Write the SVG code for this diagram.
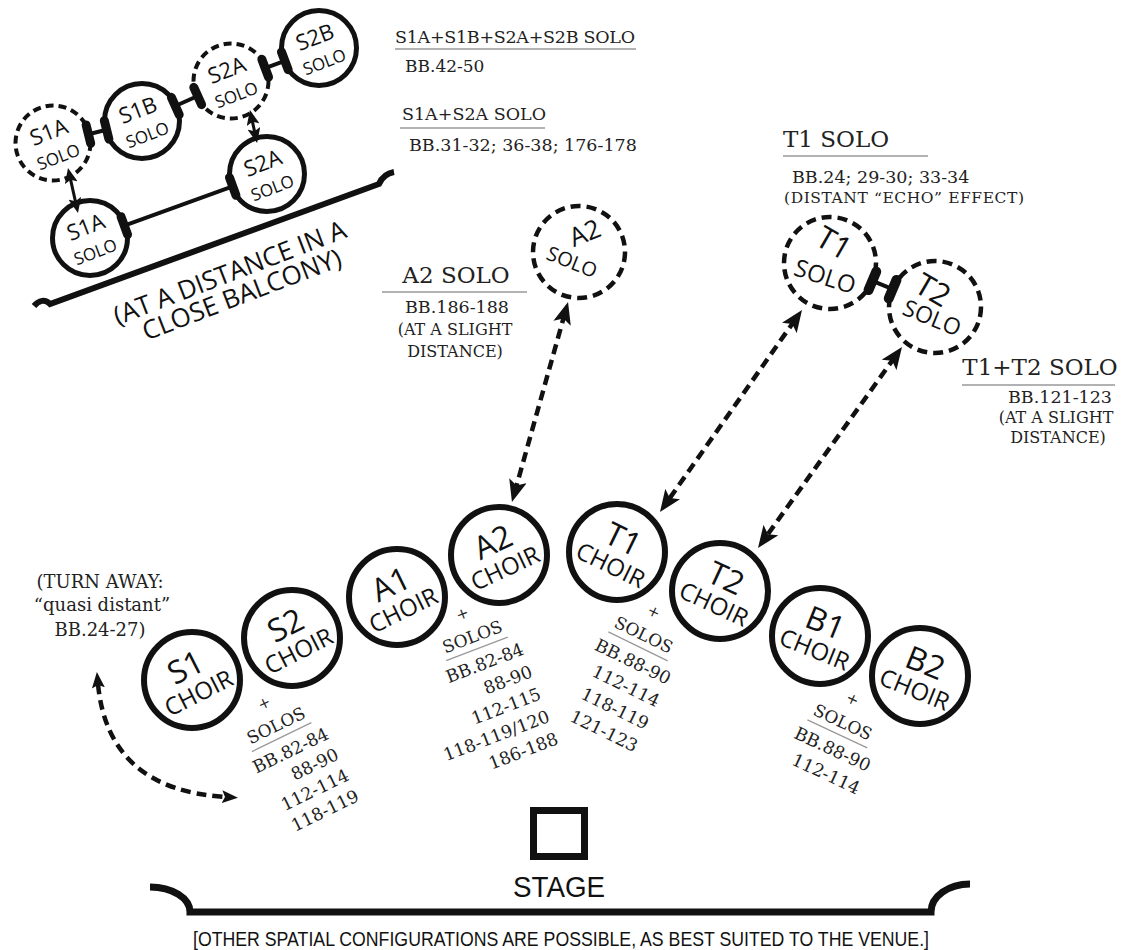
<svg xmlns="http://www.w3.org/2000/svg" xmlns:xlink="http://www.w3.org/1999/xlink" width="1123" height="950" viewBox="0 0 1123 950">
<style>
.ring{fill:#fff;stroke:#111;stroke-width:6}
.bring{fill:#fff;stroke:#111;stroke-width:5}
.dring{fill:#fff;stroke:#111;stroke-width:4.5;stroke-dasharray:10 6}
.bdring{fill:#fff;stroke:#111;stroke-width:4;stroke-dasharray:8 5}
.lab{font-family:"Open Sans","DejaVu Sans",sans-serif;fill:#111;text-anchor:middle}
.big{font-size:32px}
.mid{font-size:24px}
.serif{font-family:"DejaVu Serif","Liberation Serif",serif;fill:#222}
.ls{font-size:17.5px;text-anchor:end}
.plus{font-family:"DejaVu Serif",serif;font-size:15px;fill:#222;text-anchor:middle}
.solos{font-family:"DejaVu Serif",serif;font-size:17px;fill:#222;text-anchor:middle}
.rule{stroke:#999;stroke-width:1.3}
.darr{fill:none;stroke:#111;stroke-width:4.5;stroke-dasharray:10 6}
.conn{stroke:#111;stroke-width:4;fill:none}
.pill{fill:#111}
</style>
<defs>
<marker id="ah" viewBox="0 0 22 18" refX="10" refY="9" markerWidth="22" markerHeight="18" markerUnits="userSpaceOnUse" orient="auto-start-reverse"><path d="M0,0 L22,9 L0,18 L5,9 z" fill="#111"/></marker>
<marker id="ahs" viewBox="0 0 16 13" refX="4" refY="6.5" markerWidth="16" markerHeight="13" markerUnits="userSpaceOnUse" orient="auto-start-reverse"><path d="M0,0 L16,6.5 L0,13 L3,6.5 z" fill="#111"/></marker>
<marker id="aht" viewBox="0 0 15 13" refX="9" refY="6.5" markerWidth="15" markerHeight="13" markerUnits="userSpaceOnUse" orient="auto-start-reverse"><path d="M0,0 L15,6.5 L0,13 L3,6.5 z" fill="#111"/></marker>
<g id="solosHead"><text x="-44" y="-55" class="plus">+</text><text x="-43" y="-29" class="solos">SOLOS</text><line x1="-76" y1="-22" x2="-10" y2="-22" class="rule"/></g>
</defs>
<rect width="1123" height="950" fill="#fff"/>

<!-- balcony -->
<g id="balcony">
<path d="M34,306 C39,300 45,299 50,304 L379,184 C382,177 388,173 394,172" fill="none" stroke="#111" stroke-width="6"/>
<text class="lab" font-size="26" transform="translate(233,281) rotate(-21)">(AT A DISTANCE IN A</text>
<text class="lab" font-size="26" transform="translate(245,303) rotate(-21)">CLOSE BALCONY)</text>
</g>
<g id="solo-S1A-far" transform="translate(53,143)"><circle class="bdring" r="37.5"/><g transform="rotate(-21)"><text class="lab" font-size="22" y="-4">S1A</text><text class="lab" font-size="17" y="21">SOLO</text></g></g>
<g id="solo-S1B" transform="translate(142,121)"><circle class="bring" r="37.5"/><g transform="rotate(-21)"><text class="lab" font-size="22" y="-4">S1B</text><text class="lab" font-size="17" y="21">SOLO</text></g></g>
<g id="solo-S2A-far" transform="translate(231,81)"><circle class="bdring" r="37.5"/><g transform="rotate(-21)"><text class="lab" font-size="22" y="-4">S2A</text><text class="lab" font-size="17" y="21">SOLO</text></g></g>
<g id="solo-S2B" transform="translate(319,48)"><circle class="bring" r="37.5"/><g transform="rotate(-21)"><text class="lab" font-size="22" y="-4">S2B</text><text class="lab" font-size="17" y="21">SOLO</text></g></g>
<g id="solo-S2A" transform="translate(267,174)"><circle class="bring" r="37.5"/><g transform="rotate(-21)"><text class="lab" font-size="22" y="-4">S2A</text><text class="lab" font-size="17" y="21">SOLO</text></g></g>
<g id="solo-S1A" transform="translate(90,238)"><circle class="bring" r="37.5"/><g transform="rotate(-21)"><text class="lab" font-size="22" y="-4">S1A</text><text class="lab" font-size="17" y="21">SOLO</text></g></g>

<!-- distant solos -->
<g id="solo-A2" transform="translate(579,252)"><circle class="dring" r="46"/>
<text class="lab" font-size="26" transform="translate(6,-19) rotate(-22)" y="9">A2</text>
<text class="lab" font-size="20" transform="translate(-7,10) rotate(22)" y="7">SOLO</text></g>
<g id="solo-T1" transform="translate(830,263)"><circle class="dring" r="46"/>
<text class="lab" font-size="31" transform="translate(4,-20) rotate(30)" y="11">T1</text>
<text class="lab" font-size="24" transform="translate(-5,14) rotate(18)" y="8">SOLO</text></g>
<g id="solo-T2" transform="translate(935,307)"><circle class="dring" r="46"/>
<text class="lab" font-size="31" transform="translate(-2,-17) rotate(30)" y="11">T2</text>
<text class="lab" font-size="23" transform="translate(-3,11) rotate(22)" y="8">SOLO</text></g>

<!-- choirs -->
<g id="choir-S1" transform="translate(192,680)"><circle class="ring" r="48"/><g transform="rotate(-27)"><text class="lab big" y="-3">S1</text><text class="lab mid" y="23">CHOIR</text></g></g>
<g id="choir-S2" transform="translate(292,638)"><circle class="ring" r="48"/><g transform="rotate(-27)"><text class="lab big" y="-3">S2</text><text class="lab mid" y="23">CHOIR</text></g></g>
<g id="choir-A1" transform="translate(397,597)"><circle class="ring" r="48"/><g transform="rotate(-26)"><text class="lab big" y="-3">A1</text><text class="lab mid" y="23">CHOIR</text></g></g>
<g id="choir-A2" transform="translate(499,555)"><circle class="ring" r="48"/><g transform="rotate(-25)"><text class="lab big" y="-3">A2</text><text class="lab mid" y="23">CHOIR</text></g></g>
<g id="choir-T1" transform="translate(617,552)"><circle class="ring" r="48"/><g transform="rotate(26)"><text class="lab big" y="-3">T1</text><text class="lab mid" y="23">CHOIR</text></g></g>
<g id="choir-T2" transform="translate(720,591)"><circle class="ring" r="48"/><g transform="rotate(25)"><text class="lab big" y="-3">T2</text><text class="lab mid" y="23">CHOIR</text></g></g>
<g id="choir-B1" transform="translate(820,636)"><circle class="ring" r="48"/><g transform="rotate(22)"><text class="lab big" y="-3">B1</text><text class="lab mid" y="23">CHOIR</text></g></g>
<g id="choir-B2" transform="translate(920,676)"><circle class="ring" r="48"/><g transform="rotate(22)"><text class="lab big" y="-3">B2</text><text class="lab mid" y="23">CHOIR</text></g></g>

<!-- solos lists -->
<g id="list-S2" class="serif" transform="translate(330,738) rotate(-26)">
<use xlink:href="#solosHead" href="#solosHead"/>
<text class="ls" y="0">BB.82-84</text><text class="ls" y="23">88-90</text><text class="ls" y="46">112-114</text><text class="ls" y="69">118-119</text></g>
<g id="list-A2" class="serif" transform="translate(525,654) rotate(-21)">
<use xlink:href="#solosHead" href="#solosHead"/>
<text class="ls" y="0">BB.82-84</text><text class="ls" y="24">88-90</text><text class="ls" y="48">112-115</text><text class="ls" y="72">118-119/120</text><text class="ls" y="96">186-188</text></g>
<g id="list-T1" class="serif" transform="translate(667,685) rotate(26)">
<use xlink:href="#solosHead" href="#solosHead"/>
<text class="ls" y="0">BB.88-90</text><text class="ls" y="25">112-114</text><text class="ls" y="50">118-119</text><text class="ls" y="75">121-123</text></g>
<g id="list-B1" class="serif" transform="translate(867,772) rotate(25)">
<use xlink:href="#solosHead" href="#solosHead"/>
<text class="ls" y="0">BB.88-90</text><text class="ls" y="25">112-114</text></g>

<!-- annotations -->
<g id="note-balcony" class="serif">
<text x="395" y="43" font-size="17.5" textLength="240">S1A+S1B+S2A+S2B SOLO</text>
<line x1="395" y1="49" x2="636" y2="49" class="rule"/>
<text x="405" y="72" font-size="17">BB.42-50</text>
<text x="402" y="120" font-size="17.5">S1A+S2A SOLO</text>
<line x1="400" y1="128" x2="545" y2="128" class="rule"/>
<text x="409" y="151" font-size="17.5">BB.31-32; 36-38; 176-178</text>
</g>
<g id="note-T1" class="serif">
<text x="783" y="147" font-size="23">T1 SOLO</text>
<line x1="783" y1="156" x2="928" y2="156" class="rule"/>
<text x="792" y="183" font-size="17.5">BB.24; 29-30; 33-34</text>
<text x="784" y="203" font-size="15.5" textLength="240">(DISTANT “ECHO” EFFECT)</text>
</g>
<g id="note-A2" class="serif" text-anchor="middle">
<text x="456" y="283" font-size="23">A2 SOLO</text>
<line x1="382" y1="292" x2="527" y2="292" class="rule"/>
<text x="457" y="313" font-size="17.5">BB.186-188</text>
<text x="455" y="335" font-size="16">(AT A SLIGHT</text>
<text x="455" y="357" font-size="16">DISTANCE)</text>
</g>
<g id="note-T1T2" class="serif" text-anchor="middle">
<text x="1040" y="375" font-size="23">T1+T2 SOLO</text>
<line x1="962" y1="385" x2="1115" y2="385" class="rule"/>
<text x="1060" y="403" font-size="17.5">BB.121-123</text>
<text x="1056" y="423" font-size="16">(AT A SLIGHT</text>
<text x="1058" y="443" font-size="16">DISTANCE)</text>
</g>
<g id="note-turn" class="serif" text-anchor="middle" font-size="18">
<text x="100" y="588">(TURN AWAY:</text>
<text x="102" y="611">“quasi distant”</text>
<text x="100" y="636">BB.24-27)</text>
</g>

<!-- stage -->
<g id="stage">
<rect x="533.5" y="810.5" width="51" height="46" fill="none" stroke="#111" stroke-width="7"/>
<text x="559" y="897" font-family="'Liberation Sans Narrow','Liberation Sans',sans-serif" font-size="30" text-anchor="middle" textLength="92" lengthAdjust="spacingAndGlyphs" fill="#111">STAGE</text>
<path d="M150,887 A40,25 0 0 1 190,912 L931,912 A39,28 0 0 1 970,884" fill="none" stroke="#111" stroke-width="7"/>
<text x="561" y="946" font-family="'Liberation Sans Narrow','Liberation Sans',sans-serif" font-size="21" text-anchor="middle" textLength="736" lengthAdjust="spacingAndGlyphs" fill="#111">[OTHER SPATIAL CONFIGURATIONS ARE POSSIBLE, AS BEST SUITED TO THE VENUE.]</text>
</g>

<!-- connectors -->
<g id="connectors">
<line class="conn" x1="88.4" y1="134.2" x2="106.6" y2="129.8"/>
<line class="conn" x1="175.3" y1="106" x2="197.7" y2="96"/>
<line class="conn" x1="265.2" y1="68.2" x2="284.8" y2="60.8"/>
<line class="conn" x1="124.3" y1="225.6" x2="232.7" y2="186.4"/>
<line class="conn" x1="872.4" y1="280.8" x2="892.6" y2="289.2"/>
<rect class="pill" x="-4.5" y="-14" width="9" height="28" rx="4.5" transform="translate(88.4,134.2) rotate(-13.9)"/>
<rect class="pill" x="-4.5" y="-14" width="9" height="28" rx="4.5" transform="translate(106.6,129.8) rotate(-13.9)"/>
<rect class="pill" x="-4.5" y="-14" width="9" height="28" rx="4.5" transform="translate(175.3,106) rotate(-24.2)"/>
<rect class="pill" x="-4.5" y="-14" width="9" height="28" rx="4.5" transform="translate(197.7,96) rotate(-24.2)"/>
<rect class="pill" x="-4.5" y="-14" width="9" height="28" rx="4.5" transform="translate(265.2,68.2) rotate(-20.6)"/>
<rect class="pill" x="-4.5" y="-14" width="9" height="28" rx="4.5" transform="translate(284.8,60.8) rotate(-20.6)"/>
<rect class="pill" x="-4.5" y="-14" width="9" height="28" rx="4.5" transform="translate(124.3,225.6) rotate(-19.9)"/>
<rect class="pill" x="-4.5" y="-14" width="9" height="28" rx="4.5" transform="translate(232.7,186.4) rotate(-19.9)"/>
<rect class="pill" x="-5" y="-15" width="10" height="30" rx="5" transform="translate(872.4,280.8) rotate(22.7)"/>
<rect class="pill" x="-5" y="-15" width="10" height="30" rx="5" transform="translate(892.6,289.2) rotate(22.7)"/>
<line x1="69.3" y1="173.9" x2="76.7" y2="207.1" stroke="#111" stroke-width="3" marker-start="url(#aht)" marker-end="url(#aht)"/>
<line x1="251.2" y1="115.9" x2="255.8" y2="137.1" stroke="#111" stroke-width="3" marker-start="url(#aht)" marker-end="url(#aht)"/>
<path class="darr" d="M564.8,313.6 L515.2,490.4" marker-start="url(#ah)" marker-end="url(#ah)"/>
<path class="darr" d="M795.1,319.8 L666.9,502.2" marker-start="url(#ah)" marker-end="url(#ah)"/>
<path class="darr" d="M895,356.8 L765,538.2" marker-start="url(#ah)" marker-end="url(#ah)"/>
<path class="darr" stroke-width="4" d="M98,684 Q108,790 226,797" marker-start="url(#ahs)" marker-end="url(#ahs)"/>
</g>
</svg>
